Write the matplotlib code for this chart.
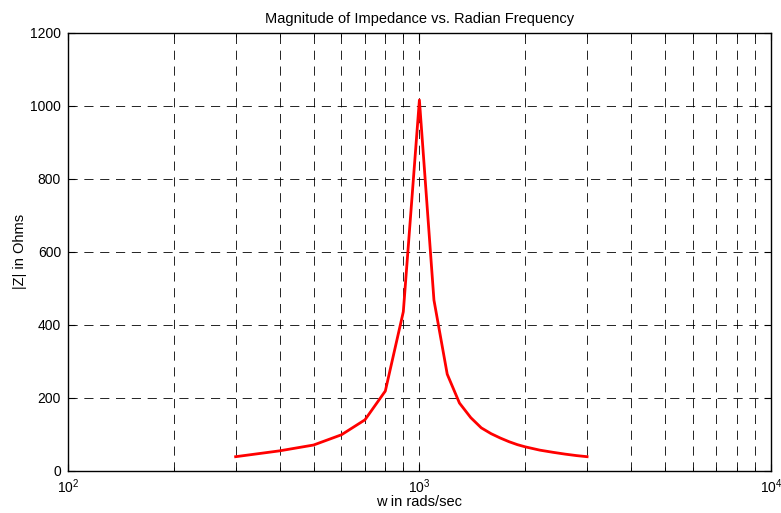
import matplotlib
matplotlib.use("Agg")
from matplotlib import pyplot as plt
from matplotlib import ticker

plt.rcParams['font.family'] = ['Liberation Sans', 'DejaVu Sans']
plt.rcParams['mathtext.fontset'] = 'custom'
plt.rcParams['mathtext.rm'] = 'Liberation Sans'
plt.rcParams['mathtext.it'] = 'Liberation Sans'

# radian frequency (rad/s) and impedance magnitude (ohms)
w = [300, 400, 500, 600, 700, 800, 900, 1000,
     1100, 1200, 1300, 1400, 1500, 1600, 1700, 1800, 1900, 2000,
     2200, 2400, 2600, 2800, 3000]
z_mag = [39, 55, 71, 99, 140, 219, 436, 1016,
         468, 265, 186, 146, 118, 102, 90, 80, 72, 66,
         57, 51, 46, 42, 39]

fig = plt.figure(figsize=(7.81, 5.13), dpi=100, facecolor='white')
ax = fig.add_axes([0.087, 0.082, 0.9, 0.854])

ax.plot(w, z_mag, color='red', linewidth=2)
ax.set_xscale('log')
ax.set_xlim(100, 10000)
ax.set_ylim(0, 1200)
ax.yaxis.set_major_locator(ticker.MultipleLocator(200))
ax.xaxis.set_minor_formatter(ticker.NullFormatter())

dash = (0, (11, 8))
ax.grid(True, which='major', color='black', linestyle=dash, linewidth=0.6)
ax.grid(True, which='minor', axis='x', color='black', linestyle=dash, linewidth=0.6)

ax.tick_params(which='both', direction='in', top=True, right=True, labelsize=10)
ax.tick_params(which='major', length=5)
ax.tick_params(which='minor', length=3)
ax.tick_params(axis='x', which='major', pad=5)
ax.tick_params(axis='y', which='major', pad=5)
for s in ax.spines.values():
    s.set_linewidth(1.0)

ax.set_title('Magnitude of Impedance vs. Radian Frequency', fontsize=10.5, pad=7)
ax.set_xlabel('w in rads/sec', fontsize=10.5, labelpad=-1)
ax.set_ylabel('|Z| in Ohms', fontsize=10.5, labelpad=2)

plt.savefig('out.png', dpi=100)
plt.close()
